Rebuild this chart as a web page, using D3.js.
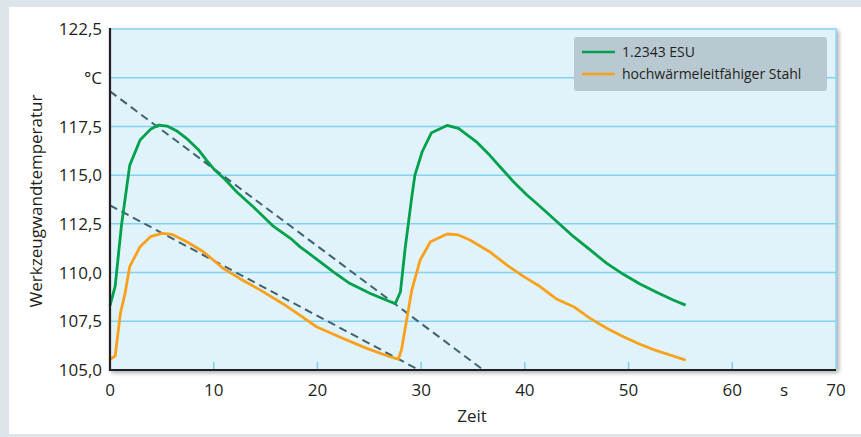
<!DOCTYPE html>
<html>
<head>
<meta charset="utf-8">
<script src="https://cdn.jsdelivr.net/npm/d3@7"></script>
<style>
  body { margin: 0; background: #fff; }
  svg { display: block; font-family: 'Open Sans', sans-serif; }
</style>
</head>
<body>
<div id="chart"></div>
<script>
const width = 861;
const height = 437;
const marginTop = 29;
const marginRight = 25;
const marginBottom = 67;
const marginLeft = 110;

const esuTime = [0, 0.5, 1.1, 1.9, 2.9, 3.9, 4.7, 5.5, 6.4, 7.5, 8.5, 9.3, 10.1, 11.1, 12.2, 13.8, 15.7, 17.4, 18.3, 19.6, 21.5, 23.1, 25.1, 27.5,
  28.0, 28.45, 29.1, 29.4, 30.1, 31.0, 32.5, 33.6, 35.4, 36.6, 37.6, 38.9, 40.2, 41.5, 43.1, 44.7, 46.3, 47.9, 49.5, 51.1, 52.7, 54.3, 55.5];
const esuTemp = [108.3, 109.3, 112.4, 115.5, 116.8, 117.35, 117.57, 117.52, 117.28, 116.83, 116.32, 115.77, 115.26, 114.78, 114.15, 113.38, 112.4, 111.76, 111.33, 110.82, 110.05, 109.45, 108.93, 108.4,
  109.0, 111.2, 113.9, 115.0, 116.2, 117.18, 117.55, 117.4, 116.68, 116.03, 115.43, 114.66, 113.98, 113.38, 112.61, 111.84, 111.16, 110.47, 109.91, 109.41, 108.99, 108.59, 108.33];

const stahlTime = [0, 0.5, 1.0, 1.45, 1.9, 2.9, 3.9, 5.0, 6.0, 7.4, 9.0, 10.9, 12.5, 14.5, 16.7, 18.3, 19.9, 22.2, 24.75, 27.0, 27.8,
  28.1, 28.6, 29.1, 29.9, 30.9, 32.5, 33.6, 34.7, 36.6, 38.25, 39.9, 41.5, 43.1, 44.7, 46.3, 47.9, 49.5, 51.1, 52.7, 54.3, 55.5];
const stahlTemp = [105.55, 105.72, 107.9, 108.93, 110.3, 111.33, 111.84, 112.01, 111.96, 111.58, 111.07, 110.22, 109.7, 109.1, 108.39, 107.82, 107.22, 106.68, 106.11, 105.68, 105.56,
  106.03, 107.57, 109.1, 110.64, 111.58, 111.98, 111.93, 111.67, 111.07, 110.39, 109.79, 109.27, 108.63, 108.25, 107.65, 107.14, 106.71, 106.32, 105.99, 105.72, 105.51];

// gestrichelte Tendenzlinien
const trendUpper = [[0, 119.3], [36, 105]];
const trendLower = [[0, 113.45], [29.8, 105]];

const xTicks = [0, 10, 20, 30, 40, 50, 60, 70];
const xTickLabels = ['0', '10', '20', '30', '40', '50', '60', '70'];
const yTicks = [105, 107.5, 110, 112.5, 115, 117.5, 120, 122.5];
const yTickLabels = ['105,0', '107,5', '110,0', '112,5', '115,0', '117,5', '°C', '122,5'];
const seriesNames = ['1.2343 ESU', 'hochwärmeleitfähiger Stahl'];
const seriesColors = ['#00a14b', '#f9a11b'];

const x = d3.scaleLinear().domain([0, 70]).range([marginLeft, width - marginRight]);
const y = d3.scaleLinear().domain([105, 122.5]).range([height - marginBottom, marginTop]);

const svg = d3.select('#chart').append('svg')
  .attr('width', width)
  .attr('height', height);

// Hintergrund / Karte
svg.append('rect').attr('width', width).attr('height', height).attr('fill', '#dde5eb');
svg.append('rect').attr('x', 9).attr('y', 7).attr('width', width - 9).attr('height', 427).attr('fill', '#fff');

const defs = svg.append('defs');
const shadow = defs.append('filter').attr('id', 'shadow')
  .attr('x', '-5%').attr('y', '-5%').attr('width', '110%').attr('height', '115%');
shadow.append('feDropShadow')
  .attr('dx', 2).attr('dy', 2).attr('stdDeviation', 2)
  .attr('flood-color', '#000').attr('flood-opacity', 0.35);

// Plotfläche
svg.append('rect')
  .attr('x', x(0)).attr('y', y(122.5))
  .attr('width', x(70) - x(0)).attr('height', y(105) - y(122.5))
  .attr('fill', '#e0f2fa')
  .attr('stroke', '#8ad4f2').attr('stroke-width', 1.5)
  .attr('filter', 'url(#shadow)');

// Gitterlinien
svg.append('g')
  .selectAll('line')
  .data(yTicks.filter(d => d > 105 && d < 122.5))
  .join('line')
  .attr('x1', x(0)).attr('x2', x(70))
  .attr('y1', d => y(d)).attr('y2', d => y(d))
  .style('stroke', '#84d2f2')
  .style('stroke-width', 1.5);

// kleine Striche an der x-Achse
svg.append('g')
  .selectAll('line')
  .data(xTicks.filter(d => d > 0 && d < 70))
  .join('line')
  .attr('x1', d => x(d)).attr('x2', d => x(d))
  .attr('y1', y(105) - 8).attr('y2', y(105))
  .style('stroke', '#7fcdee')
  .style('stroke-width', 1.5);

// Tendenzlinien
const line = d3.line().x(d => x(d[0])).y(d => y(d[1]));
svg.append('g')
  .selectAll('path')
  .data([trendUpper, trendLower])
  .join('path')
  .attr('d', line)
  .attr('fill', 'none')
  .style('stroke', '#3f6170')
  .style('stroke-width', 2)
  .style('stroke-dasharray', '8,5');

// Kurven
const series = [
  esuTime.map((t, i) => [t, esuTemp[i]]),
  stahlTime.map((t, i) => [t, stahlTemp[i]])
];
svg.append('g')
  .selectAll('path')
  .data(series)
  .join('path')
  .attr('d', line)
  .attr('fill', 'none')
  .style('stroke', (d, i) => seriesColors[i])
  .style('stroke-width', 2.8)
  .style('stroke-linejoin', 'round');

// Achsen
svg.append('line')
  .attr('x1', x(0)).attr('x2', x(0)).attr('y1', y(122.5) - 1).attr('y2', y(105) + 1)
  .style('stroke', '#231f20').style('stroke-width', 2.2);
svg.append('line')
  .attr('x1', x(0) - 1).attr('x2', x(70)).attr('y1', y(105)).attr('y2', y(105))
  .style('stroke', '#231f20').style('stroke-width', 2.2);

// Beschriftungen y
svg.append('g')
  .selectAll('text')
  .data(yTicks)
  .join('text')
  .attr('x', x(0) - 8)
  .attr('y', d => y(d))
  .attr('dy', '0.36em')
  .attr('text-anchor', 'end')
  .attr('fill', '#231f20')
  .style('font-size', '17px')
  .text((d, i) => yTickLabels[i]);

// Beschriftungen x
svg.append('g')
  .selectAll('text')
  .data(xTicks)
  .join('text')
  .attr('x', d => x(d))
  .attr('y', y(105) + 26)
  .attr('text-anchor', 'middle')
  .attr('fill', '#231f20')
  .style('font-size', '17px')
  .text((d, i) => xTickLabels[i]);

svg.append('text')
  .attr('x', x(65))
  .attr('y', y(105) + 26)
  .attr('text-anchor', 'middle')
  .attr('fill', '#231f20')
  .style('font-size', '17px')
  .text('s');

svg.append('text')
  .attr('x', 472)
  .attr('y', 422)
  .attr('text-anchor', 'middle')
  .attr('fill', '#231f20')
  .style('font-size', '17px')
  .text('Zeit');

svg.append('text')
  .attr('transform', 'translate(42,201) rotate(-90)')
  .attr('text-anchor', 'middle')
  .attr('fill', '#231f20')
  .style('font-size', '17px')
  .text('Werkzeugwandtemperatur');

// Legende
const legend = svg.append('g');
legend.append('rect')
  .attr('x', 574).attr('y', 37).attr('width', 253).attr('height', 54)
  .attr('rx', 3)
  .attr('fill', '#b9c9d1');
legend.selectAll('line')
  .data(seriesNames)
  .join('line')
  .attr('x1', 582).attr('x2', 615)
  .attr('y1', (d, i) => 52 + i * 22).attr('y2', (d, i) => 52 + i * 22)
  .style('stroke', (d, i) => seriesColors[i])
  .style('stroke-width', 2.5);
legend.selectAll('text')
  .data(seriesNames)
  .join('text')
  .attr('x', 622)
  .attr('y', (d, i) => 52 + i * 22)
  .attr('dy', '0.35em')
  .attr('fill', '#231f20')
  .style('font-size', '14px')
  .text(d => d);
</script>
</body>
</html>
